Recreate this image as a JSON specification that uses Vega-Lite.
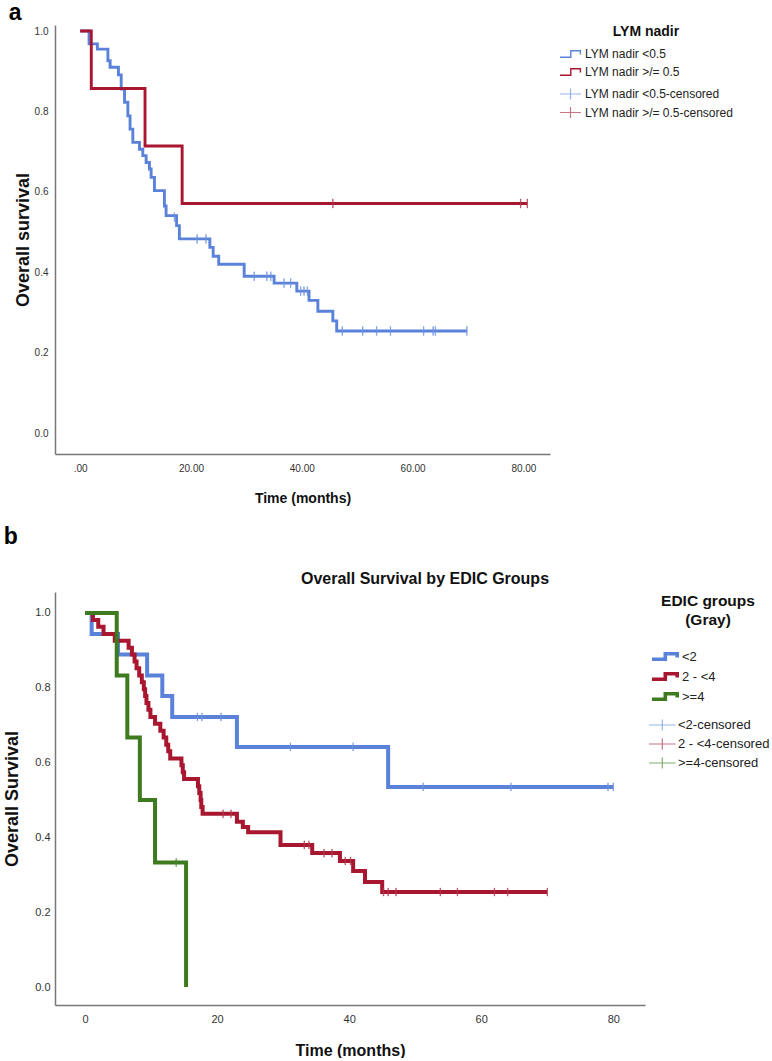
{
  "$schema": "https://vega.github.io/schema/vega-lite/v6.json",
  "background": "white",
  "padding": {"left": 3, "top": 2, "right": 0, "bottom": 0},
  "title": {"text": "a", "anchor": "start", "frame": "bounds", "fontSize": 23, "fontWeight": "bold", "font": "Liberation Sans", "color": "#000", "offset": 0, "dx": 5},
  "config": {
    "font": "Liberation Sans",
    "view": {"stroke": null},
    "axis": {
      "grid": false, "ticks": false, "domainColor": "#777", "domainWidth": 1.5,
      "labelFont": "Liberation Sans", "labelFontSize": 10, "labelColor": "#333",
      "titleFont": "Liberation Sans", "titleFontSize": 15, "titleFontWeight": "bold", "titleColor": "#111"
    },
    "legend": {"labelFont": "Liberation Sans", "labelColor": "#222", "titleFont": "Liberation Sans", "titleColor": "#111"}
  },
  "datasets": {
    "lymLines": [
      {"group": "LYM nadir <0.5", "time": 0, "survival": 1.0},
      {"group": "LYM nadir <0.5", "time": 1.6, "survival": 0.968},
      {"group": "LYM nadir <0.5", "time": 3.1, "survival": 0.955},
      {"group": "LYM nadir <0.5", "time": 5.0, "survival": 0.926},
      {"group": "LYM nadir <0.5", "time": 5.4, "survival": 0.91},
      {"group": "LYM nadir <0.5", "time": 6.9, "survival": 0.891},
      {"group": "LYM nadir <0.5", "time": 7.4, "survival": 0.856},
      {"group": "LYM nadir <0.5", "time": 8.0, "survival": 0.823},
      {"group": "LYM nadir <0.5", "time": 8.6, "survival": 0.789},
      {"group": "LYM nadir <0.5", "time": 9.0, "survival": 0.756},
      {"group": "LYM nadir <0.5", "time": 9.5, "survival": 0.723},
      {"group": "LYM nadir <0.5", "time": 10.7, "survival": 0.706},
      {"group": "LYM nadir <0.5", "time": 11.3, "survival": 0.69},
      {"group": "LYM nadir <0.5", "time": 11.9, "survival": 0.673},
      {"group": "LYM nadir <0.5", "time": 12.5, "survival": 0.657},
      {"group": "LYM nadir <0.5", "time": 12.8, "survival": 0.636},
      {"group": "LYM nadir <0.5", "time": 13.4, "survival": 0.603},
      {"group": "LYM nadir <0.5", "time": 15.2, "survival": 0.565},
      {"group": "LYM nadir <0.5", "time": 15.5, "survival": 0.541},
      {"group": "LYM nadir <0.5", "time": 17.4, "survival": 0.516},
      {"group": "LYM nadir <0.5", "time": 17.9, "survival": 0.483},
      {"group": "LYM nadir <0.5", "time": 23.4, "survival": 0.462},
      {"group": "LYM nadir <0.5", "time": 24.0, "survival": 0.44},
      {"group": "LYM nadir <0.5", "time": 25.0, "survival": 0.42},
      {"group": "LYM nadir <0.5", "time": 29.6, "survival": 0.39},
      {"group": "LYM nadir <0.5", "time": 35.0, "survival": 0.373},
      {"group": "LYM nadir <0.5", "time": 39.1, "survival": 0.353},
      {"group": "LYM nadir <0.5", "time": 41.3, "survival": 0.33},
      {"group": "LYM nadir <0.5", "time": 42.9, "survival": 0.303},
      {"group": "LYM nadir <0.5", "time": 45.6, "survival": 0.279},
      {"group": "LYM nadir <0.5", "time": 46.3, "survival": 0.254},
      {"group": "LYM nadir <0.5", "time": 69.8, "survival": 0.254},
      {"group": "LYM nadir >/= 0.5", "time": 0, "survival": 1.0},
      {"group": "LYM nadir >/= 0.5", "time": 2.0, "survival": 0.857},
      {"group": "LYM nadir >/= 0.5", "time": 11.7, "survival": 0.714},
      {"group": "LYM nadir >/= 0.5", "time": 18.4, "survival": 0.571},
      {"group": "LYM nadir >/= 0.5", "time": 80.7, "survival": 0.571}
    ],
    "lymCens": [
      {"group": "LYM nadir <0.5-censored", "time": 17.0, "survival": 0.537},
      {"group": "LYM nadir <0.5-censored", "time": 21.1, "survival": 0.483},
      {"group": "LYM nadir <0.5-censored", "time": 22.7, "survival": 0.483},
      {"group": "LYM nadir <0.5-censored", "time": 31.4, "survival": 0.39},
      {"group": "LYM nadir <0.5-censored", "time": 33.7, "survival": 0.39},
      {"group": "LYM nadir <0.5-censored", "time": 34.4, "survival": 0.39},
      {"group": "LYM nadir <0.5-censored", "time": 36.8, "survival": 0.373},
      {"group": "LYM nadir <0.5-censored", "time": 38.0, "survival": 0.373},
      {"group": "LYM nadir <0.5-censored", "time": 39.8, "survival": 0.353},
      {"group": "LYM nadir <0.5-censored", "time": 40.4, "survival": 0.353},
      {"group": "LYM nadir <0.5-censored", "time": 41.0, "survival": 0.353},
      {"group": "LYM nadir <0.5-censored", "time": 47.3, "survival": 0.254},
      {"group": "LYM nadir <0.5-censored", "time": 51.0, "survival": 0.254},
      {"group": "LYM nadir <0.5-censored", "time": 53.5, "survival": 0.254},
      {"group": "LYM nadir <0.5-censored", "time": 56.0, "survival": 0.254},
      {"group": "LYM nadir <0.5-censored", "time": 62.0, "survival": 0.254},
      {"group": "LYM nadir <0.5-censored", "time": 63.7, "survival": 0.254},
      {"group": "LYM nadir <0.5-censored", "time": 64.1, "survival": 0.254},
      {"group": "LYM nadir <0.5-censored", "time": 69.8, "survival": 0.254},
      {"group": "LYM nadir >/= 0.5-censored", "time": 45.6, "survival": 0.571},
      {"group": "LYM nadir >/= 0.5-censored", "time": 79.5, "survival": 0.571},
      {"group": "LYM nadir >/= 0.5-censored", "time": 80.7, "survival": 0.571}
    ],
    "edicLines": [
      {"group": "<2", "time": 0, "survival": 1.0},
      {"group": "<2", "time": 1.0, "survival": 0.944},
      {"group": "<2", "time": 5.0, "survival": 0.889},
      {"group": "<2", "time": 9.4, "survival": 0.833},
      {"group": "<2", "time": 11.7, "survival": 0.778},
      {"group": "<2", "time": 13.2, "survival": 0.722},
      {"group": "<2", "time": 23.0, "survival": 0.642},
      {"group": "<2", "time": 45.9, "survival": 0.535},
      {"group": "<2", "time": 80.0, "survival": 0.535},
      {"group": "2 - <4", "time": 0, "survival": 1.0},
      {"group": "2 - <4", "time": 1.2, "survival": 0.981},
      {"group": "2 - <4", "time": 2.0, "survival": 0.963},
      {"group": "2 - <4", "time": 2.8, "survival": 0.944},
      {"group": "2 - <4", "time": 4.5, "survival": 0.926},
      {"group": "2 - <4", "time": 6.6, "survival": 0.907},
      {"group": "2 - <4", "time": 7.1, "survival": 0.889},
      {"group": "2 - <4", "time": 7.5, "survival": 0.87},
      {"group": "2 - <4", "time": 7.8, "survival": 0.852},
      {"group": "2 - <4", "time": 8.2, "survival": 0.833},
      {"group": "2 - <4", "time": 8.6, "survival": 0.815},
      {"group": "2 - <4", "time": 8.9, "survival": 0.796},
      {"group": "2 - <4", "time": 9.1, "survival": 0.778},
      {"group": "2 - <4", "time": 9.3, "survival": 0.759},
      {"group": "2 - <4", "time": 9.6, "survival": 0.741},
      {"group": "2 - <4", "time": 9.9, "survival": 0.722},
      {"group": "2 - <4", "time": 10.6, "survival": 0.704},
      {"group": "2 - <4", "time": 11.4, "survival": 0.685},
      {"group": "2 - <4", "time": 11.9, "survival": 0.667},
      {"group": "2 - <4", "time": 12.3, "survival": 0.648},
      {"group": "2 - <4", "time": 12.6, "survival": 0.63},
      {"group": "2 - <4", "time": 12.9, "survival": 0.611},
      {"group": "2 - <4", "time": 14.6, "survival": 0.593},
      {"group": "2 - <4", "time": 14.8, "survival": 0.574},
      {"group": "2 - <4", "time": 15.0, "survival": 0.556},
      {"group": "2 - <4", "time": 17.1, "survival": 0.537},
      {"group": "2 - <4", "time": 17.3, "survival": 0.519},
      {"group": "2 - <4", "time": 17.5, "survival": 0.5},
      {"group": "2 - <4", "time": 17.6, "survival": 0.481},
      {"group": "2 - <4", "time": 17.8, "survival": 0.463},
      {"group": "2 - <4", "time": 23.0, "survival": 0.442},
      {"group": "2 - <4", "time": 23.9, "survival": 0.428},
      {"group": "2 - <4", "time": 24.7, "survival": 0.414},
      {"group": "2 - <4", "time": 29.6, "survival": 0.38},
      {"group": "2 - <4", "time": 34.4, "survival": 0.358},
      {"group": "2 - <4", "time": 38.6, "survival": 0.337},
      {"group": "2 - <4", "time": 40.6, "survival": 0.31},
      {"group": "2 - <4", "time": 42.4, "survival": 0.281},
      {"group": "2 - <4", "time": 45.0, "survival": 0.254},
      {"group": "2 - <4", "time": 70.0, "survival": 0.254},
      {"group": ">=4", "time": 0, "survival": 1.0},
      {"group": ">=4", "time": 4.8, "survival": 0.833},
      {"group": ">=4", "time": 6.4, "survival": 0.667},
      {"group": ">=4", "time": 8.3, "survival": 0.5},
      {"group": ">=4", "time": 10.6, "survival": 0.333},
      {"group": ">=4", "time": 15.3, "survival": 0.0}
    ],
    "edicCens": [
      {"group": "<2-censored", "time": 17.0, "survival": 0.722},
      {"group": "<2-censored", "time": 17.7, "survival": 0.722},
      {"group": "<2-censored", "time": 20.6, "survival": 0.722},
      {"group": "<2-censored", "time": 31.1, "survival": 0.642},
      {"group": "<2-censored", "time": 40.6, "survival": 0.642},
      {"group": "<2-censored", "time": 51.2, "survival": 0.535},
      {"group": "<2-censored", "time": 64.5, "survival": 0.535},
      {"group": "<2-censored", "time": 79.2, "survival": 0.535},
      {"group": "<2-censored", "time": 80.0, "survival": 0.535},
      {"group": "2 - <4-censored", "time": 20.9, "survival": 0.463},
      {"group": "2 - <4-censored", "time": 22.1, "survival": 0.463},
      {"group": "2 - <4-censored", "time": 33.2, "survival": 0.38},
      {"group": "2 - <4-censored", "time": 33.9, "survival": 0.38},
      {"group": "2 - <4-censored", "time": 36.2, "survival": 0.358},
      {"group": "2 - <4-censored", "time": 37.4, "survival": 0.358},
      {"group": "2 - <4-censored", "time": 39.4, "survival": 0.337},
      {"group": "2 - <4-censored", "time": 40.2, "survival": 0.337},
      {"group": "2 - <4-censored", "time": 45.2, "survival": 0.254},
      {"group": "2 - <4-censored", "time": 45.9, "survival": 0.254},
      {"group": "2 - <4-censored", "time": 47.1, "survival": 0.254},
      {"group": "2 - <4-censored", "time": 53.8, "survival": 0.254},
      {"group": "2 - <4-censored", "time": 56.4, "survival": 0.254},
      {"group": "2 - <4-censored", "time": 62.0, "survival": 0.254},
      {"group": "2 - <4-censored", "time": 64.0, "survival": 0.254},
      {"group": "2 - <4-censored", "time": 70.0, "survival": 0.254},
      {"group": ">=4-censored", "time": 13.8, "survival": 0.333}
    ]
  },
  "resolve": {"scale": {"color": "independent", "stroke": "independent"}, "legend": {"color": "independent", "stroke": "independent"}},
  "columns": 1,
  "align": "none",
  "spacing": 21,
  "concat": [
    {
      "width": 495,
      "height": 429,
      "layer": [
        {
          "data": {"name": "lymLines"},
          "mark": {"type": "line", "interpolate": "step-after", "strokeWidth": 2.9},
          "encoding": {
            "x": {"field": "time", "type": "quantitative", "scale": {"domain": [-4.55, 84.8], "nice": false, "zero": false},
                  "axis": {"title": "Time (months)", "titleFontSize": 14, "values": [0, 20, 40, 60, 80], "labelExpr": "datum.value == 0 ? '.00' : format(datum.value, '.2f')", "labelPadding": 9, "titlePadding": 18}},
            "y": {"field": "survival", "type": "quantitative", "scale": {"domain": [-0.052, 1.015], "nice": false, "zero": false},
                  "axis": {"title": "Overall survival", "titleFontSize": 18, "values": [0, 0.2, 0.4, 0.6, 0.8, 1.0], "format": ".1f", "labelPadding": 7, "titlePadding": 2, "minExtent": 0}},
            "color": {"field": "group", "type": "nominal",
                      "scale": {"domain": ["LYM nadir <0.5", "LYM nadir >/= 0.5"], "range": ["#5B82D9", "#A8162F"]},
                      "legend": {"title": "LYM nadir", "orient": "right", "offset": 9, "padding": 0, "titleAnchor": "middle", "titleFontSize": 14, "titleFontWeight": "bold", "titlePadding": 8,
                                 "labelFontSize": 12, "labelOffset": 12, "symbolSize": 144, "rowPadding": 4, "symbolStrokeWidth": 1.4,
                                 "labelExpr": "datum.label + '⠀⠀⠀⠀⠀⠀'",
                                 "symbolType": "M-1,0.55H0.8V-0.55H2.4V0.1", "symbolFillColor": "transparent"}}
          }
        },
        {
          "data": {"name": "lymCens"},
          "mark": {"type": "tick", "orient": "vertical", "size": 9, "thickness": 0.4, "filled": false, "strokeWidth": 1},
          "encoding": {
            "x": {"field": "time", "type": "quantitative"},
            "y": {"field": "survival", "type": "quantitative"},
            "stroke": {"field": "group", "type": "nominal",
                       "scale": {"domain": ["LYM nadir <0.5-censored", "LYM nadir >/= 0.5-censored"], "range": ["#6F93E0", "#B23A50"]},
                       "legend": {"title": null, "orient": "right", "offset": 9, "padding": 0,
                                  "labelFontSize": 12, "labelOffset": 12, "symbolSize": 144, "rowPadding": 2.5, "symbolStrokeWidth": 1.2,
                                  "symbolType": "M-1,0H2.5M0.75,-0.9V0.9", "symbolFillColor": "transparent"}}
          }
        }
      ]
    },
    {
      "title": {"text": "b", "anchor": "start", "frame": "bounds", "fontSize": 23, "fontWeight": "bold", "font": "Liberation Sans", "color": "#000", "offset": 22, "dx": 0},
      "resolve": {"scale": {"color": "independent", "stroke": "independent"}, "legend": {"color": "independent", "stroke": "independent"}},
      "vconcat": [
        {
          "title": {"text": "Overall Survival by EDIC Groups", "anchor": "middle", "fontSize": 16, "fontWeight": "bold", "font": "Liberation Sans", "color": "#111", "dx": 75, "offset": 5},
          "width": 590,
          "height": 413,
          "layer": [
            {
              "data": {"name": "edicLines"},
              "mark": {"type": "line", "interpolate": "step-after", "strokeWidth": 4},
              "encoding": {
                "x": {"field": "time", "type": "quantitative", "scale": {"domain": [-4.55, 84.8], "nice": false, "zero": false},
                      "axis": {"title": "Time (months)", "titleFontSize": 16, "values": [0, 20, 40, 60, 80], "format": "d", "labelFontSize": 11, "labelPadding": 8, "titlePadding": 18}},
                "y": {"field": "survival", "type": "quantitative", "scale": {"domain": [-0.048, 1.056], "nice": false, "zero": false},
                      "axis": {"title": "Overall Survival", "titleFontSize": 18, "values": [0, 0.2, 0.4, 0.6, 0.8, 1.0], "format": ".1f", "labelFontSize": 11, "labelPadding": 5, "titlePadding": 13, "minExtent": 0}},
                "color": {"field": "group", "type": "nominal",
                          "scale": {"domain": ["<2", "2 - <4", ">=4"], "range": ["#5B82D9", "#A8162F", "#3E7B1F"]},
                          "legend": {"title": ["EDIC groups", "(Gray)"], "orient": "right", "offset": 1, "padding": 2, "titleAnchor": "middle", "titleFontSize": 15.5, "titleFontWeight": "bold", "titlePadding": 19, "titleLineHeight": 19,
                                     "labelFontSize": 13, "labelOffset": 14, "symbolSize": 196, "rowPadding": 0, "symbolStrokeWidth": 3.6,
                                     "labelExpr": "datum.label + '⠀⠀⠀⠀⠀'",
                                     "symbolType": "M-1,0.4H0.9V-0.4H2.6V0.15", "symbolFillColor": "transparent"}}
              }
            },
            {
              "data": {"name": "edicCens"},
              "mark": {"type": "tick", "orient": "vertical", "size": 8, "thickness": 0.4, "filled": false, "strokeWidth": 1},
              "encoding": {
                "x": {"field": "time", "type": "quantitative"},
                "y": {"field": "survival", "type": "quantitative"},
                "stroke": {"field": "group", "type": "nominal",
                           "scale": {"domain": ["<2-censored", "2 - <4-censored", ">=4-censored"], "range": ["#6F93E0", "#B23A50", "#4E8A30"]},
                           "legend": {"title": null, "orient": "right", "offset": 3, "padding": 0,
                                      "labelFontSize": 13, "labelOffset": 14, "symbolSize": 196, "rowPadding": 3, "symbolStrokeWidth": 1.2,
                                      "symbolType": "M-1,0H2.8M0.9,-0.8V0.8", "symbolFillColor": "transparent"}}
              }
            }
          ]
        }
      ]
    }
  ]
}
